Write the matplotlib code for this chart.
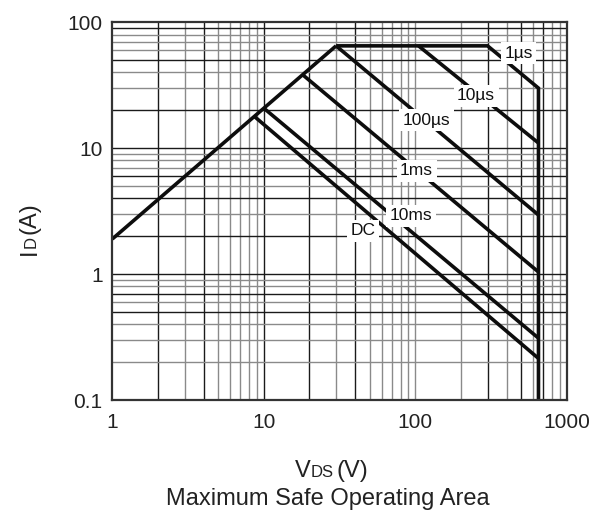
import numpy as np
import matplotlib
matplotlib.use('Agg')
import matplotlib.pyplot as plt

plt.rcParams['font.family'] = ['Liberation Sans', 'DejaVu Sans']

# SOA boundaries: V_DS (V) vs I_D (A)
rds_v = [1, 30]
rds_i = [1.9, 65]
us1_v = [30, 300, 650, 650]
us1_i = [65, 65, 30, 0.1]
us10_v = [105, 650]
us10_i = [65, 11]
us100_v = [30, 650]
us100_i = [65, 2.95]
ms1_v = [18.2, 650]
ms1_i = [38, 1.04]
ms10_v = [10, 650]
ms10_i = [20.8, 0.31]
dc_v = [8.65, 650]
dc_i = [17.9, 0.214]

curve_labels = ['1µs', '10µs', '100µs', '1ms', '10ms', 'DC']
label_v = [480, 252, 119, 102, 94, 45]
label_i = [56.7, 26, 16.7, 6.6, 2.9, 2.2]

x_ticks = [1, 10, 100, 1000]
x_ticklabels = ['1', '10', '100', '1000']
y_ticks = [0.1, 1, 10, 100]
y_ticklabels = ['0.1', '1', '10', '100']

# grid lines drawn darker than the rest
dark_x = [2, 4, 10, 20, 40, 300, 500, 700]
dark_y = [0.5, 0.7, 1, 2, 4, 6, 10, 20, 50, 90]

fig = plt.figure(figsize=(6.07, 5.15), dpi=100)
ax = fig.add_axes([0.185, 0.2233, 0.7488, 0.7334])
ax.set_xscale('log')
ax.set_yscale('log')
ax.set_xlim(1, 1000)
ax.set_ylim(0.1, 100)

dark = '#1a1a1a'
gray = '#8a8a8a'
for d in range(3):
    for k in range(1, 10):
        v = k * 10 ** d
        if v == 1:
            continue
        c = dark if any(np.isclose(v, dark_x)) else gray
        ax.axvline(v, color=c, lw=1.0, zorder=1)
for d in range(-1, 2):
    for k in range(1, 10):
        v = k * 10.0 ** d
        if np.isclose(v, 0.1):
            continue
        c = dark if any(np.isclose(v, dark_y)) else gray
        ax.axhline(v, color=c, lw=1.0, zorder=1)

curves = [(rds_v, rds_i), (us1_v, us1_i), (us10_v, us10_i), (us100_v, us100_i),
          (ms1_v, ms1_i), (ms10_v, ms10_i), (dc_v, dc_i)]
for v, i in curves:
    ax.plot(v, i, color='#0d0d0d', lw=2.6, solid_capstyle='butt',
            solid_joinstyle='miter', zorder=3)

for txt, v, i in zip(curve_labels, label_v, label_i):
    ax.text(v, i, txt, fontsize=12.5, ha='center', va='center', color='#111111',
            zorder=4, bbox=dict(boxstyle='square,pad=0.2', fc='white', ec='none'))

ax.set_xticks(x_ticks)
ax.set_xticklabels(x_ticklabels)
ax.set_yticks(y_ticks)
ax.set_yticklabels(y_ticklabels)
ax.minorticks_off()
ax.tick_params(axis='both', length=0, labelsize=15, labelcolor='#222222')
ax.tick_params(axis='x', pad=9)
ax.tick_params(axis='y', pad=7)
for s in ax.spines.values():
    s.set_linewidth(1.6)
    s.set_color('#333333')
    s.set_zorder(5)

# x label: V with smaller DS
yb = 1 - 477 / 515
t1 = fig.text(295 / 607, yb, 'V', fontsize=17, ha='left', va='baseline', color='#222222')
t2 = fig.add_artist(plt.Annotation('DS', xy=(1, yb), xycoords=(t1, 'figure fraction'),
                                   fontsize=12, ha='left', va='baseline', color='#222222'))
fig.add_artist(plt.Annotation('(V)', xy=(1, yb), xycoords=(t2, 'figure fraction'),
                              xytext=(2, 0), textcoords='offset points',
                              fontsize=17, ha='left', va='baseline', color='#222222'))

# y label: I with smaller D, rotated
xb = 36 / 607
r1 = fig.text(xb, 1 - 255 / 515, 'I', fontsize=17, rotation=90, rotation_mode='anchor',
              ha='left', va='baseline', color='#222222')
r2 = fig.add_artist(plt.Annotation('D', xy=(xb, 1), xycoords=('figure fraction', r1),
                                   fontsize=12, rotation=90, rotation_mode='anchor',
                                   ha='left', va='baseline', color='#222222'))
fig.add_artist(plt.Annotation('(A)', xy=(xb, 1), xycoords=('figure fraction', r2),
                              xytext=(0, 2), textcoords='offset points',
                              fontsize=17, rotation=90, rotation_mode='anchor',
                              ha='left', va='baseline', color='#222222'))

fig.text(327.5 / 607, 1 - 505 / 515, 'Maximum Safe Operating Area', fontsize=17,
         ha='center', va='baseline', color='#222222')

fig.savefig('out.png', dpi=100)
